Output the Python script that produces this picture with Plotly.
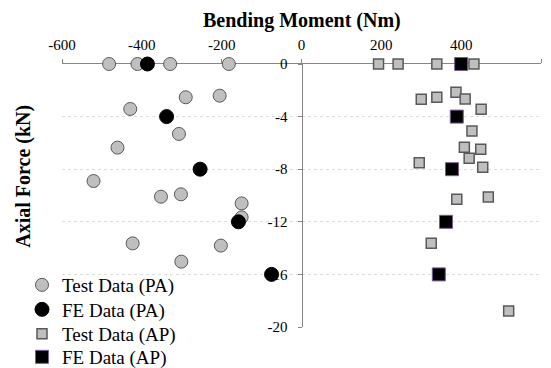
import plotly.graph_objects as go

# Test Data (PA)
test_pa_x = [-482, -411, -329, -182, -290, -205, -429, -307, -461, -521, -352, -302, -150, -150, -423, -202, -301]
test_pa_y = [0, 0, 0, 0, -2.53, -2.41, -3.42, -5.32, -6.36, -8.9, -10.09, -9.91, -10.6, -11.66, -13.64, -13.81, -15.03]
# FE Data (PA)
fe_pa_x = [-386, -338, -254, -158, -75]
fe_pa_y = [0, -4, -8, -12, -16]
# Test Data (AP)
test_ap_x = [193, 242, 339, 432, 300, 339, 387, 410, 450, 427, 408, 449, 420, 295, 454, 389, 468, 325, 519]
test_ap_y = [0, 0, 0, 0, -2.69, -2.53, -2.15, -2.66, -3.45, -5.1, -6.34, -6.49, -7.17, -7.5, -7.86, -10.29, -10.11, -13.64, -18.78]
# FE Data (AP)
fe_ap_x = [400, 389, 377, 362, 344]
fe_ap_y = [0, -4, -8, -12, -16]

x_ticks = [-600, -400, -200, 0, 200, 400, 600]
x_tick_text = ["-600", "-400", "-200", "0", "200", "400", "600"]
y_ticks = [0, -4, -8, -12, -16, -20]
y_tick_text = ["0", "-4", "-8", "-12", "-16", "-20"]

FONT = "'Liberation Serif', 'Times New Roman', serif"

fig = go.Figure()
fig.add_trace(go.Scatter(x=test_pa_x, y=test_pa_y, mode="markers", name="Test Data (PA)",
                         cliponaxis=False, legend="legend",
                         marker=dict(symbol="circle", size=13, color="#bfbfbf",
                                     line=dict(color="#595959", width=1))))
fig.add_trace(go.Scatter(x=fe_pa_x, y=fe_pa_y, mode="markers", name="FE Data (PA)",
                         cliponaxis=False, legend="legend2",
                         marker=dict(symbol="circle", size=14, color="#000000",
                                     line=dict(color="#000000", width=1))))
fig.add_trace(go.Scatter(x=test_ap_x, y=test_ap_y, mode="markers", name="Test Data (AP)",
                         cliponaxis=False, legend="legend3",
                         marker=dict(symbol="square", size=10, color="#bfbfbf",
                                     line=dict(color="#595959", width=1.5))))
fig.add_trace(go.Scatter(x=fe_ap_x, y=fe_ap_y, mode="markers", name="FE Data (AP)",
                         cliponaxis=False, legend="legend4",
                         marker=dict(symbol="square", size=13, color="#000000",
                                     line=dict(color="#7a5a9a", width=1))))


def leg(y):
    return dict(x=-0.0835, y=y, xanchor="left", yanchor="middle",
                font=dict(family=FONT, size=19, color="#000000"),
                bgcolor="rgba(0,0,0,0)", itemwidth=30, borderwidth=0,
                itemsizing="trace")


fig.update_layout(
    width=543, height=360,
    margin=dict(l=54, r=10, t=56, b=41, autoexpand=False),
    paper_bgcolor="white", plot_bgcolor="white",
    font=dict(family=FONT, size=15, color="#000000"),
    showlegend=True,
    legend=leg(0.1597),
    legend2=leg(0.0665),
    legend3=leg(-0.0266),
    legend4=leg(-0.114),
    xaxis=dict(range=[-600, 600], side="top", tickvals=x_ticks, ticktext=x_tick_text,
               showgrid=False, zeroline=False, showline=True,
               linecolor="#868686", linewidth=1, ticks="outside", ticklen=4,
               tickcolor="#868686", layer="below traces", ticklabelstandoff=3,
               tickfont=dict(family=FONT, size=15)),
    yaxis=dict(range=[-20, 0], tickvals=y_ticks, ticktext=y_tick_text,
               anchor="free", position=0.5,
               showgrid=True, gridcolor="#dcdcdc", griddash="dot", gridwidth=1,
               zeroline=False, showline=True, linecolor="#868686", linewidth=1,
               ticks="outside", ticklen=4, tickcolor="#868686", layer="below traces",
               ticklabelstandoff=7,
               tickfont=dict(family=FONT, size=15)),
    annotations=[
        dict(text="<b>Bending Moment (Nm)</b>", x=0.5, y=1.167, xref="paper", yref="paper",
             showarrow=False, xanchor="center", yanchor="middle",
             font=dict(family=FONT, size=20, color="#000000")),
        dict(text="<b>Axial Force (kN)</b>", x=-0.082, y=0.574, xref="paper", yref="paper",
             showarrow=False, xanchor="center", yanchor="middle", textangle=-90,
             font=dict(family=FONT, size=20, color="#000000")),
    ],
)

fig.write_html("out.html")
